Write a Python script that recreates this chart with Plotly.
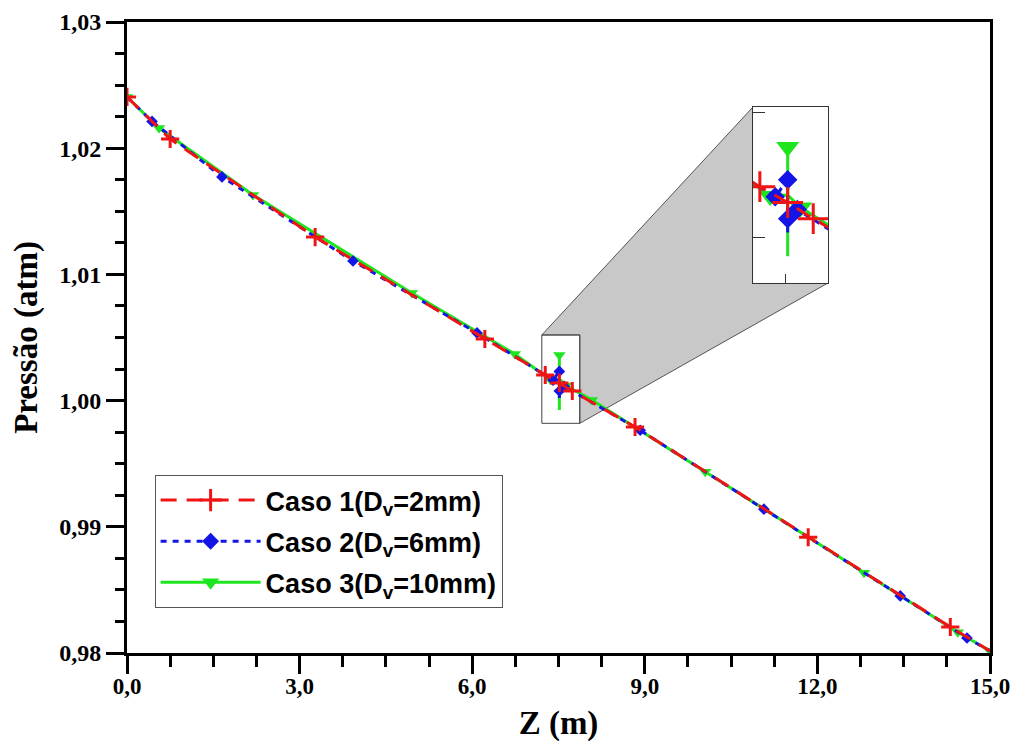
import plotly.graph_objects as go

# ---------------- data ----------------
# Caso 1 (D_v = 2 mm)
z1 = [0.0, 0.75, 3.27, 6.22, 7.27, 7.515, 7.74, 8.83, 11.84, 14.31, 15.0]
p1 = [1.02406, 1.02073, 1.01296, 1.00488, 1.00203, 1.00140, 1.00076, 0.99791, 0.98917, 0.98206, 0.98016]
m1 = [1, 1, 1, 1, 1, 1, 1, 1, 1, 1, 0]

# Caso 2 (D_v = 6 mm)
z2 = [0.0, 0.435, 1.651, 3.928, 6.084, 7.405, 7.515, 7.515, 7.515, 7.515, 7.60, 8.92, 11.07, 13.44, 14.60, 15.0]
p2 = [1.02406, 1.02212, 1.01772, 1.01106, 1.00536, 1.00163, 1.00231, 1.00262, 1.00021, 1.00076, 1.00112, 0.99765, 0.99140, 0.98452, 0.98119, 0.98016]
m2 = [0, 1, 1, 1, 1, 1, 1, 0, 0, 1, 1, 1, 1, 1, 1, 0]

# Caso 3 (D_v = 10 mm)
z3 = [0.0, 0.556, 2.19, 4.95, 6.74, 7.36, 7.515, 7.515, 7.515, 7.515, 7.63, 8.08, 10.05, 12.81, 14.44, 15.0]
p3 = [1.02406, 1.02160, 1.01629, 1.00853, 1.00369, 1.00166, 1.00170, 1.00361, 0.99926, 1.00170, 1.00120, 1.00005, 0.99437, 0.98635, 0.98165, 0.98016]
m3 = [1, 1, 1, 1, 1, 1, 0, 1, 0, 0, 1, 1, 1, 1, 1, 1]

names = ["Caso 1(D<sub>v</sub>=2mm)", "Caso 2(D<sub>v</sub>=6mm)", "Caso 3(D<sub>v</sub>=10mm)"]

# axis settings
x_range = [0, 15]
y_range = [0.98, 1.03]
zoom_x = [7.21, 7.87]      # region magnified in the inset
zoom_y = [0.9982, 1.0052]
inset_dom_x = [0.7254, 0.8123]
inset_dom_y = [0.5864, 0.8653]

RED = "#f01414"
BLUE = "#1414e6"
GREEN = "#1ee61e"

series = [
    # z, p, marks, color, dash, symbol, size main, size inset, name index
    (z3, p3, m3, GREEN, "solid", "triangle-down", 11, 20, 2),
    (z2, p2, m2, BLUE, "6px,6px", "diamond", 9, 15, 1),
    (z1, p1, m1, RED, "16px,10px", "cross-thin", 13, 22, 0),
]

fig = go.Figure()

for (z, p, m, col, dash, sym, s_main, s_in, ni) in series:
    zm = [a for a, k in zip(z, m) if k]
    pm = [b for b, k in zip(p, m) if k]
    for ax, sz in (("", s_main), ("3", s_in)):
        fig.add_trace(go.Scatter(
            x=z, y=p, mode="lines", line=dict(color=col, width=3, dash=dash),
            showlegend=False, hoverinfo="skip",
            xaxis="x" + ax, yaxis="y" + ax))
        fig.add_trace(go.Scatter(
            x=zm, y=pm, mode="markers",
            marker=dict(symbol=sym, size=sz, color=col,
                        line=dict(color=col, width=(3 if sym == "cross-thin" else 0))),
            showlegend=False,
            xaxis="x" + ax, yaxis="y" + ax))

# legend entries (in reference order)
for (z, p, m, col, dash, sym, s_main, s_in, ni) in sorted(series, key=lambda s: s[8]):
    fig.add_trace(go.Scatter(
        x=[None], y=[None], mode="lines+markers", name=names[ni],
        legendgroup=str(ni),
        line=dict(color=col, width=3, dash=dash),
        marker=dict(symbol=sym, size=s_main + 4, color=col,
                    line=dict(color=col, width=(3 if sym == "cross-thin" else 0)))))

# ---------------- shapes: magnifier ----------------
def px(zv):
    return (zv - x_range[0]) / (x_range[1] - x_range[0])


def py(pv):
    return (pv - y_range[0]) / (y_range[1] - y_range[0])


sTL = (px(zoom_x[0]), py(zoom_y[1]))
sTR = (px(zoom_x[1]), py(zoom_y[1]))
sBR = (px(zoom_x[1]), py(zoom_y[0]))
bTL = (inset_dom_x[0], inset_dom_y[1])
bBL = (inset_dom_x[0], inset_dom_y[0])
bBR = (inset_dom_x[1], inset_dom_y[0])
path = "M{},{} L{},{} L{},{} L{},{} L{},{} L{},{} Z".format(
    *sTL, *bTL, *bBL, *bBR, *sBR, *sTR)

fig.add_shape(type="path", path=path, xref="paper", yref="paper",
              fillcolor="#c8c8c8", line=dict(color="#555555", width=1), layer="below")
fig.add_shape(type="rect", xref="x", yref="y",
              x0=zoom_x[0], x1=zoom_x[1], y0=zoom_y[0], y1=zoom_y[1],
              line=dict(color="#444444", width=1), layer="below")

serif = "Liberation Serif"
sans = "Liberation Sans"

# the page body adds an 8px margin, so the figure is 8px smaller and margins shifted
fig.update_layout(
    width=1011, height=746,
    margin=dict(l=119, r=29, t=14, b=101),
    paper_bgcolor="white", plot_bgcolor="white",
    separators=",.",
    showlegend=True,
    legend=dict(x=0.032, y=0.282, xanchor="left", yanchor="top",
                bordercolor="#555555", borderwidth=1, bgcolor="white",
                font=dict(family=sans, size=27, color="black", weight="bold"),
                traceorder="grouped", tracegroupgap=3, itemwidth=100),
    xaxis=dict(
        range=x_range, domain=[0, 1], tick0=0, dtick=3, tickformat=".1f",
        automargin=False, ticklabelstandoff=-8,
        ticks="outside", ticklen=18, tickwidth=3, tickcolor="black",
        showline=True, linewidth=3, linecolor="black", mirror=True,
        showgrid=False, zeroline=False,
        minor=dict(dtick=0.75, ticks="outside", ticklen=11, tickwidth=3, tickcolor="black", showgrid=False),
        tickfont=dict(family=serif, size=23, color="black", weight="bold"),
        title=dict(text="Z (m)", standoff=14,
                   font=dict(family=serif, size=33, color="black", weight="bold")),
    ),
    yaxis=dict(
        range=y_range, domain=[0, 1], tick0=0.98, dtick=0.01, tickformat=".2f",
        automargin=False,
        ticks="outside", ticklen=18, tickwidth=3, tickcolor="black",
        showline=True, linewidth=3, linecolor="black", mirror=True,
        showgrid=False, zeroline=False,
        minor=dict(dtick=0.0025, ticks="outside", ticklen=9, tickwidth=3, tickcolor="black", showgrid=False),
        tickfont=dict(family=serif, size=24, color="black", weight="bold"),
        title=dict(text="Pressão (atm)", standoff=12,
                   font=dict(family=serif, size=33, color="black", weight="bold")),
    ),
    xaxis3=dict(
        range=zoom_x, domain=inset_dom_x, anchor="y3", automargin=False,
        tickvals=[7.5], ticks="inside", ticklen=9, tickwidth=1, tickcolor="#333333",
        showticklabels=False, showline=True, linewidth=1, linecolor="#333333",
        mirror=True, showgrid=False, zeroline=False,
    ),
    yaxis3=dict(
        range=zoom_y, domain=inset_dom_y, anchor="x3", automargin=False,
        tickvals=[1.000, 1.005], ticks="inside", ticklen=12, tickwidth=1, tickcolor="#333333",
        showticklabels=False, showline=True, linewidth=1, linecolor="#333333",
        mirror=True, showgrid=False, zeroline=False,
    ),
)

fig.write_html("out.html")
